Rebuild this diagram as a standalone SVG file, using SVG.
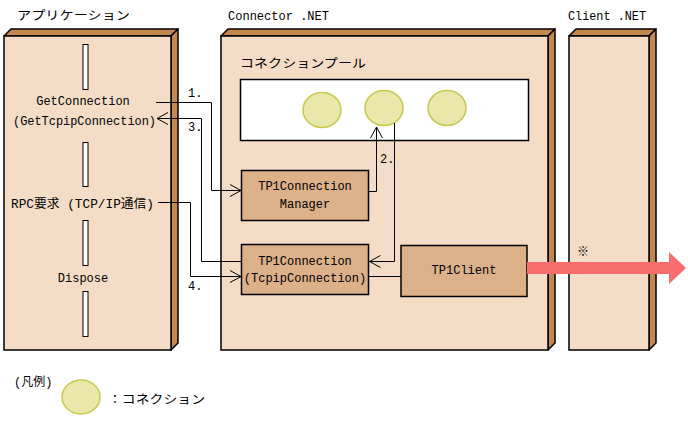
<svg xmlns="http://www.w3.org/2000/svg" width="688" height="423" viewBox="0 0 688 423">
<style>
.face{fill:#F4DCC6;stroke:#000;stroke-width:1.5}
.side{fill:#C4884F;stroke:#000;stroke-width:1.5;stroke-linejoin:round}
.box{fill:#DCB088;stroke:#000;stroke-width:1.5}
.bar{fill:#fff;stroke:#000;stroke-width:1}
.conn{fill:#E8E8AA;stroke:#C8C850;stroke-width:1.5}
.ln{fill:none;stroke:#000;stroke-width:1}
text{font-family:"Liberation Mono","Noto Sans CJK JP",monospace;font-size:12px;fill:#000}
.c{text-anchor:middle}
</style>
<defs>
<marker id="ah" markerUnits="userSpaceOnUse" markerWidth="14" markerHeight="14" refX="0" refY="0" viewBox="-12 -7 14 14" orient="auto">
<path d="M-11,-6 L0,0 L-11,6" fill="none" stroke="#000" stroke-width="1"/>
</marker>
</defs>

<g id="titles">
<text x="17" y="20" textLength="113" lengthAdjust="spacingAndGlyphs">アプリケーション</text>
<text x="228" y="20" textLength="101" lengthAdjust="spacingAndGlyphs">Connector .NET</text>
<text x="568" y="20" textLength="78" lengthAdjust="spacingAndGlyphs">Client .NET</text>
</g>

<g id="panel-app">
<polygon class="side" points="4,36 11,29 178,29 171,36"/>
<polygon class="side" points="171,36 178,29 178,343 171,350"/>
<rect class="face" x="4" y="36" width="167" height="314"/>
<rect class="bar" x="83" y="44.5" width="5" height="45"/>
<rect class="bar" x="83" y="142.5" width="5" height="44"/>
<rect class="bar" x="83" y="220.5" width="5" height="45"/>
<rect class="bar" x="83" y="291.5" width="5" height="45"/>
<text class="c" x="83" y="105">GetConnection</text>
<text x="13" y="125" textLength="143" lengthAdjust="spacingAndGlyphs">(GetTcpipConnection)</text>
<text x="11" y="208" textLength="143" lengthAdjust="spacingAndGlyphs">RPC要求 (TCP/IP通信)</text>
<text class="c" x="83" y="282">Dispose</text>
</g>

<g id="panel-connector">
<polygon class="side" points="221,36 228,29 555,29 548,36"/>
<polygon class="side" points="548,36 555,29 555,343 548,350"/>
<rect class="face" x="221" y="36" width="327" height="314"/>
<text x="240" y="68" textLength="126" lengthAdjust="spacingAndGlyphs">コネクションプール</text>
</g>

<g id="pool">
<rect x="240.5" y="79.5" width="288" height="61" fill="#fff" stroke="#000" stroke-width="1.5"/>
<ellipse class="conn" cx="322" cy="110" rx="19" ry="17.5"/>
<ellipse class="conn" cx="384" cy="108" rx="19" ry="17.5"/>
<ellipse class="conn" cx="447" cy="108" rx="19" ry="17.5"/>
</g>

<g id="panel-client">
<polygon class="side" points="569,36 576,29 656,29 649,36"/>
<polygon class="side" points="649,36 656,29 656,343 649,350"/>
<rect class="face" x="569" y="36" width="80" height="314"/>
<text x="577" y="256">※</text>
</g>

<g id="node-manager">
<rect class="box" x="241.5" y="170.5" width="127" height="50"/>
<text class="c" x="305" y="190">TP1Connection</text>
<text class="c" x="305" y="208">Manager</text>
</g>

<g id="node-tp1connection">
<rect class="box" x="241.5" y="244.5" width="127" height="50"/>
<text class="c" x="305" y="265">TP1Connection</text>
<text class="c" x="305" y="282">(TcpipConnection)</text>
</g>

<g id="node-tp1client">
<rect class="box" x="401" y="245.5" width="126" height="51"/>
<text class="c" x="464" y="274">TP1Client</text>
</g>

<g id="connectors">
<polyline class="ln" points="156,102.5 211.5,102.5 211.5,190.5 241,190.5" marker-end="url(#ah)"/>
<polyline class="ln" points="241.5,261.5 201.5,261.5 201.5,118.5 157,118.5" marker-end="url(#ah)"/>
<polyline class="ln" points="158,202.5 190.5,202.5 190.5,276.5 241,276.5" marker-end="url(#ah)"/>
<polyline class="ln" points="369,191.5 376.5,191.5 376.5,127" marker-end="url(#ah)"/>
<polyline class="ln" points="394.5,123 394.5,261.5 369.5,261.5" marker-end="url(#ah)"/>
<line class="ln" x1="369" y1="276.5" x2="401" y2="276.5"/>
<polygon points="527,262 669,262 669,252 686,268 669,284 669,274 527,274" fill="#F86C6C"/>
<text x="188" y="97">1.</text>
<text x="188" y="131">3.</text>
<text x="188" y="290">4.</text>
<text x="380" y="163">2.</text>
</g>

<g id="legend">
<text x="14" y="386">(凡例)</text>
<ellipse class="conn" cx="81" cy="397" rx="19" ry="17"/>
<text x="108" y="404" textLength="97" lengthAdjust="spacingAndGlyphs">：コネクション</text>
</g>
</svg>
